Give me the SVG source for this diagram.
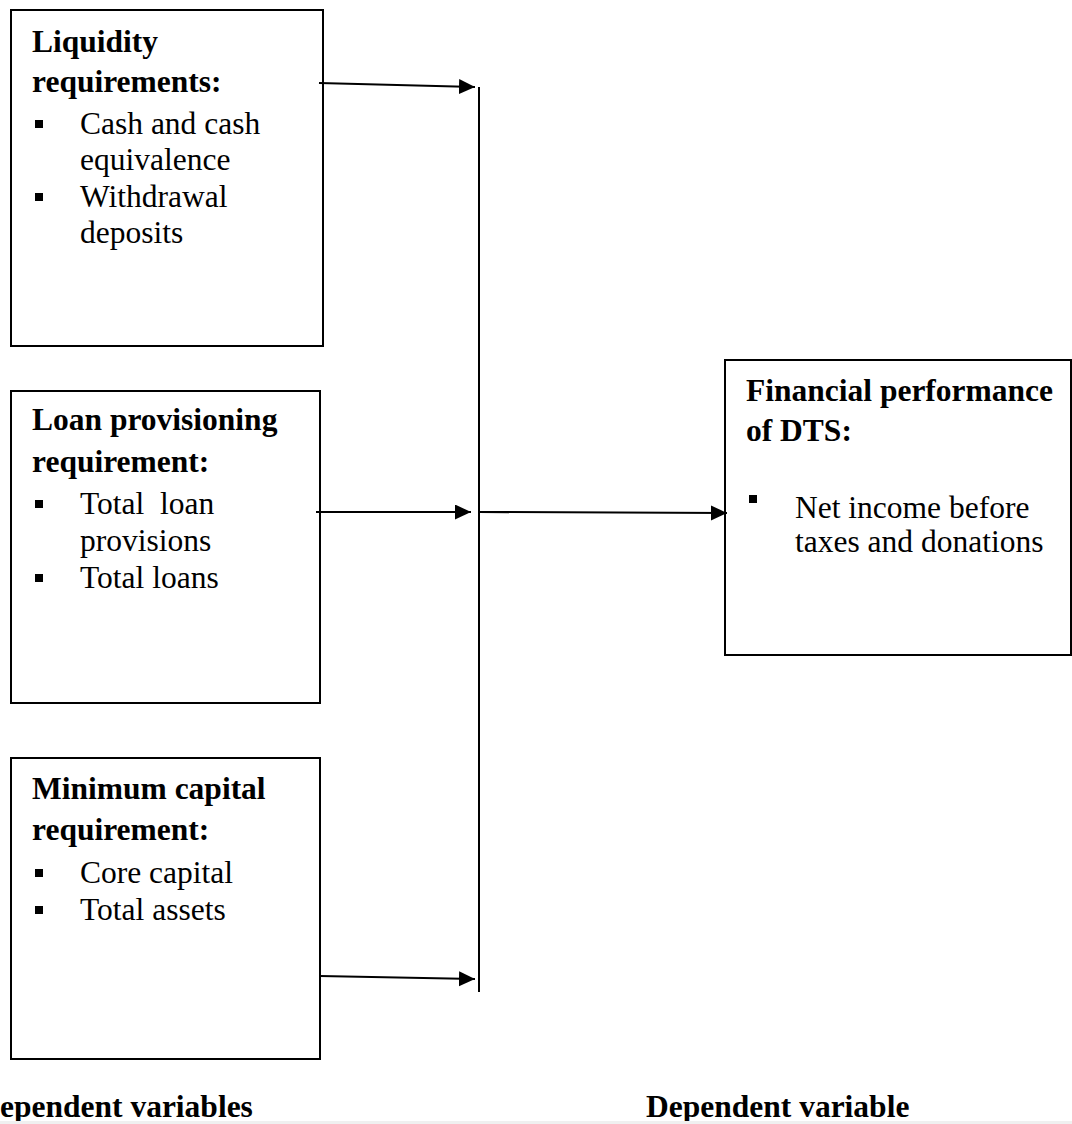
<svg xmlns="http://www.w3.org/2000/svg" width="1072" height="1124" viewBox="0 0 1072 1124">
<style>
.box{fill:#fff;stroke:#000;stroke-width:2}
.h{font-family:"Liberation Serif","Times New Roman",serif;font-weight:bold;font-size:31.5px;fill:#000}
.t{font-family:"Liberation Serif","Times New Roman",serif;font-size:31.5px;fill:#000;white-space:pre}
.b{fill:#000}
.c{stroke:#000;stroke-width:2;fill:none}
</style>
<defs>
<marker id="ah" markerUnits="userSpaceOnUse" markerWidth="18" markerHeight="16" refX="16" refY="7.5" orient="auto">
<path d="M0,0 L16,7.5 L0,15 Z" fill="#000"/>
</marker>
</defs>
<rect width="1072" height="1124" fill="#fff"/>
<g id="node-liquidity">
<rect class="box" x="11" y="10" width="312" height="336"/>
<text class="h" x="32" y="52">Liquidity</text>
<text class="h" x="32" y="92">requirements:</text>
<rect class="b" x="35" y="120" width="8" height="8"/>
<text class="t" x="80" y="134">Cash and cash</text>
<text class="t" x="80" y="170">equivalence</text>
<rect class="b" x="35" y="193" width="8" height="8"/>
<text class="t" x="80" y="207">Withdrawal</text>
<text class="t" x="80" y="243">deposits</text>
</g>
<g id="node-loan">
<rect class="box" x="11" y="391" width="309" height="312"/>
<text class="h" x="32" y="430">Loan provisioning</text>
<text class="h" x="32" y="472">requirement:</text>
<rect class="b" x="35" y="500" width="8" height="8"/>
<text class="t" x="80" y="514" xml:space="preserve">Total  loan</text>
<text class="t" x="80" y="551">provisions</text>
<rect class="b" x="35" y="574" width="8" height="8"/>
<text class="t" x="80" y="588">Total loans</text>
</g>
<g id="node-capital">
<rect class="box" x="11" y="758" width="309" height="301"/>
<text class="h" x="32" y="799">Minimum capital</text>
<text class="h" x="32" y="840">requirement:</text>
<rect class="b" x="35" y="869" width="8" height="8"/>
<text class="t" x="80" y="883">Core capital</text>
<rect class="b" x="35" y="906" width="8" height="8"/>
<text class="t" x="80" y="920">Total assets</text>
</g>
<g id="node-performance">
<rect class="box" x="725" y="360" width="346" height="295"/>
<text class="h" x="746" y="401">Financial performance</text>
<text class="h" x="746" y="441">of DTS:</text>
<rect class="b" x="749" y="495" width="8" height="8"/>
<text class="t" x="795" y="518">Net income before</text>
<text class="t" x="795" y="552">taxes and donations</text>
</g>
<g id="connectors">
<line class="c" x1="479" y1="87" x2="479" y2="992"/>
<line class="c" x1="319" y1="83" x2="475" y2="87" marker-end="url(#ah)"/>
<line class="c" x1="316" y1="512" x2="471" y2="512" marker-end="url(#ah)"/>
<line class="c" x1="320" y1="976" x2="475" y2="979" marker-end="url(#ah)"/>
<line class="c" x1="479" y1="512" x2="727" y2="513" marker-end="url(#ah)"/>
</g>
<g id="labels">
<text class="h" x="0" y="1117">ependent variables</text>
<text class="h" x="646" y="1117">Dependent variable</text>
</g>
<rect x="0" y="1121" width="1072" height="3" fill="#f0f0f0"/>
</svg>
